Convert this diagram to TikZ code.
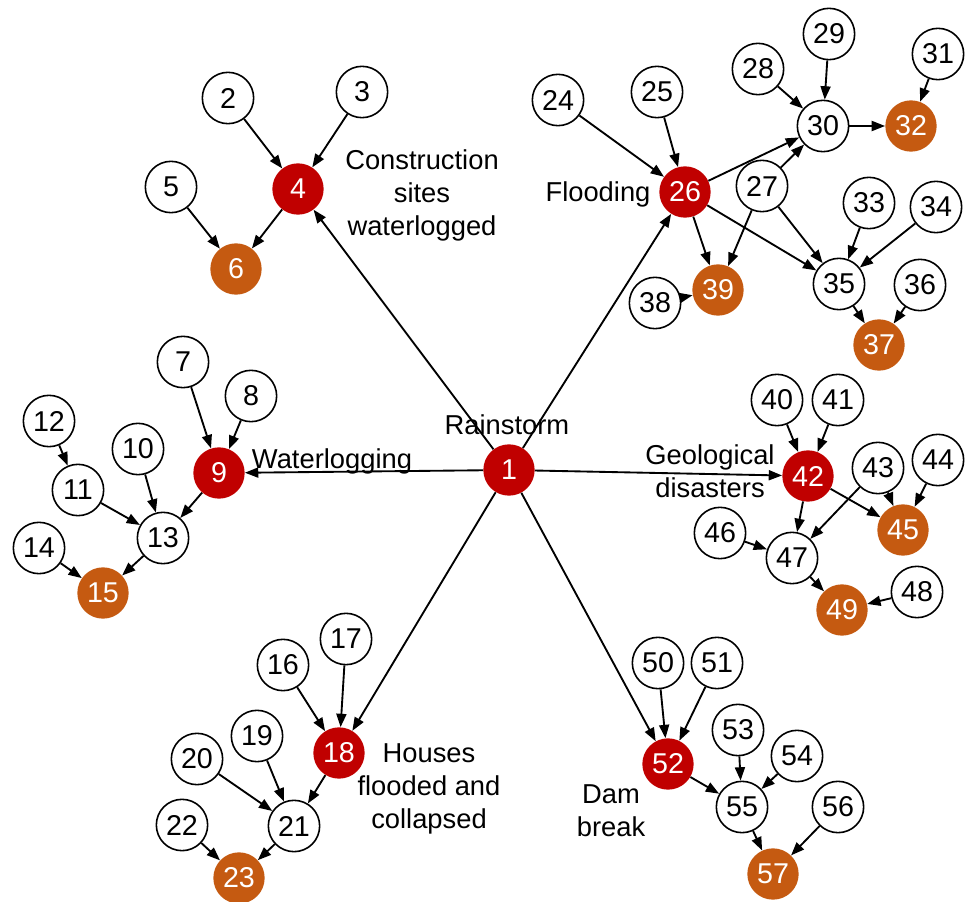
\documentclass[tikz,border=0pt]{standalone}
\usepackage{fontspec}
\setmainfont{Liberation Sans}
\usetikzlibrary{arrows.meta}
\definecolor{nred}{HTML}{C00000}
\definecolor{norange}{HTML}{C55A11}
\begin{document}
\begin{tikzpicture}[x=0.75pt,y=-0.75pt,
  basenode/.style={circle,minimum size=38.5pt,inner sep=0pt,font=\fontsize{21.5}{25}\selectfont},
  wnode/.style={basenode,draw=black,line width=1.2pt,fill=white},
  rnode/.style={basenode,fill=nred,text=white},
  onode/.style={basenode,fill=norange,text=white},
  lbl/.style={font=\fontsize{20.5}{24.75}\selectfont,align=center,inner sep=0pt},
  arr/.style={-{Triangle[length=10pt,width=7.5pt]},line width=1.4pt}]
\useasboundingbox (0,0) rectangle (971,902);
% centre
\node[rnode] (n1) at (509,470) {1};
% construction sites
\node[wnode] (n2) at (228,98) {2};
\node[wnode] (n3) at (362,92) {3};
\node[rnode] (n4) at (298,189) {4};
\node[wnode] (n5) at (171,187) {5};
\node[onode] (n6) at (236,269) {6};
% waterlogging
\node[wnode] (n7) at (183,362) {7};
\node[wnode] (n8) at (251,396) {8};
\node[rnode] (n9) at (219,473) {9};
\node[wnode] (n10) at (138,449) {10};
\node[wnode] (n11) at (78,490) {11};
\node[wnode] (n12) at (49,421) {12};
\node[wnode] (n13) at (163,538) {13};
\node[wnode] (n14) at (39,548) {14};
\node[onode] (n15) at (103,593) {15};
% houses
\node[wnode] (n16) at (283,665) {16};
\node[wnode] (n17) at (346,639) {17};
\node[rnode] (n18) at (339,753) {18};
\node[wnode] (n19) at (257,736) {19};
\node[wnode] (n20) at (197,759) {20};
\node[wnode] (n21) at (294,826) {21};
\node[wnode] (n22) at (182,825) {22};
\node[onode] (n23) at (239,878) {23};
% flooding
\node[wnode] (n24) at (558,100) {24};
\node[wnode] (n25) at (657,92) {25};
\node[rnode] (n26) at (685,192) {26};
\node[wnode] (n27) at (762,186) {27};
\node[wnode] (n28) at (758,69) {28};
\node[wnode] (n29) at (829,34) {29};
\node[wnode] (n30) at (823,126) {30};
\node[wnode] (n31) at (938,54) {31};
\node[onode] (n32) at (911,126) {32};
\node[wnode] (n33) at (869,203) {33};
\node[wnode] (n34) at (936,207) {34};
\node[wnode] (n35) at (839,284) {35};
\node[wnode] (n36) at (920,285) {36};
\node[onode] (n37) at (879,345) {37};
\node[wnode] (n38) at (655,303) {38};
\node[onode] (n39) at (718,290) {39};
% geological
\node[wnode] (n40) at (777,400) {40};
\node[wnode] (n41) at (838,400) {41};
\node[rnode] (n42) at (808,476) {42};
\node[wnode] (n43) at (878,468) {43};
\node[wnode] (n44) at (938,460) {44};
\node[onode] (n45) at (903,530) {45};
\node[wnode] (n46) at (720,533) {46};
\node[wnode] (n47) at (792,558) {47};
\node[wnode] (n48) at (917,592) {48};
\node[onode] (n49) at (842,610) {49};
% dam break
\node[wnode] (n50) at (658,663) {50};
\node[wnode] (n51) at (717,663) {51};
\node[rnode] (n52) at (668,764) {52};
\node[wnode] (n53) at (738,730) {53};
\node[wnode] (n54) at (797,756) {54};
\node[wnode] (n55) at (742,807) {55};
\node[wnode] (n56) at (838,807) {56};
\node[onode] (n57) at (773,874) {57};
% labels
\node[lbl,anchor=base] (lrain) at (507,434) {Rainstorm};
\node[lbl,anchor=base] (lwater) at (332,468) {Waterlogging};
\node[lbl] (lcons) at (422,195) {Construction\\sites\\waterlogged};
\node[lbl,anchor=base] (lflood) at (598,202) {Flooding};
\node[lbl] (lgeo) at (710,471) {Geological\\disasters};
\node[lbl] (lhouse) at (429,789) {Houses\\flooded and\\collapsed};
\node[lbl] (ldam) at (611,811) {Dam\\break};
% edges
\foreach \a/\b in {1/4,1/26,1/9,1/42,1/18,1/52,
  2/4,3/4,4/6,5/6,
  7/9,8/9,9/13,10/13,12/11,11/13,13/15,14/15,
  16/18,17/18,18/21,19/21,20/21,21/23,22/23,
  24/26,25/26,26/30,26/35,26/39,28/30,29/30,27/30,27/35,27/39,30/32,31/32,33/35,34/35,35/37,36/37,38/39,
  40/42,41/42,42/45,42/47,43/45,43/47,44/45,46/47,47/49,48/49,
  50/52,51/52,52/55,53/55,54/55,55/57,56/57}
  \draw[arr] (n\a) -- (n\b);
\end{tikzpicture}
\end{document}
